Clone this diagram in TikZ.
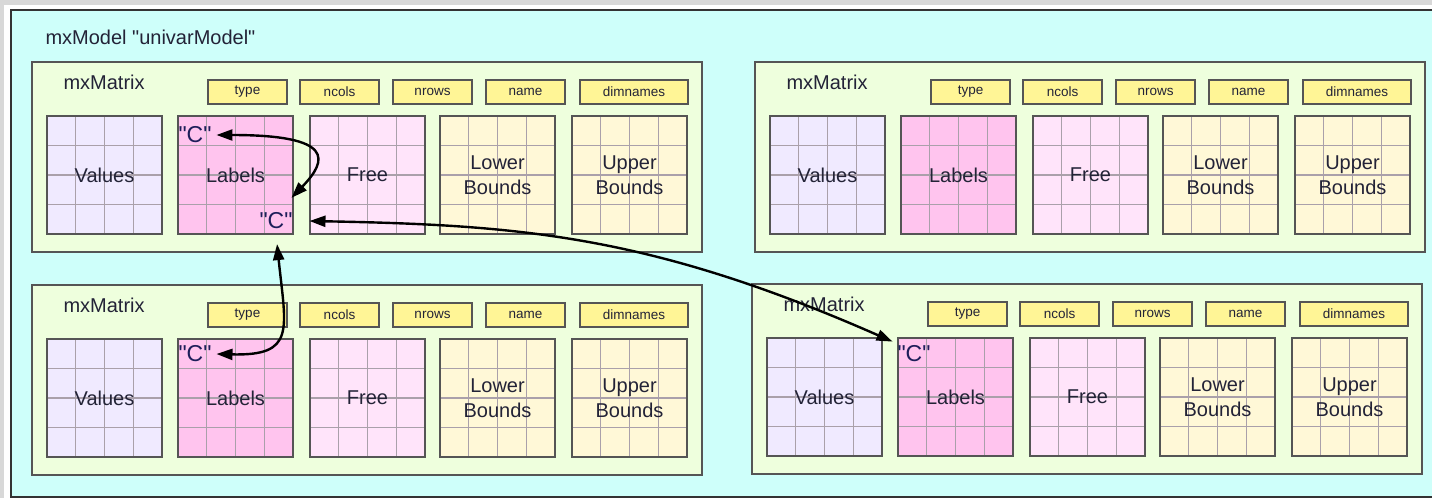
\documentclass[tikz,border=0pt]{standalone}
\usepackage{fontspec}
\setmainfont{Liberation Sans}[Ligatures=TeXOff]
\usetikzlibrary{calc,arrows.meta}

\definecolor{bggray}{RGB}{216,216,216}
\definecolor{modelcyan}{RGB}{206,255,250}
\definecolor{matgreen}{RGB}{238,255,221}
\definecolor{attryel}{RGB}{255,245,150}
\definecolor{valfill}{RGB}{240,234,255}
\definecolor{labfill}{RGB}{255,196,238}
\definecolor{freefill}{RGB}{255,228,250}
\definecolor{bndfill}{RGB}{255,248,215}
\definecolor{frame}{RGB}{85,85,85}
\definecolor{cellline}{RGB}{170,160,170}
\definecolor{txtdark}{RGB}{35,35,55}
\definecolor{cnavy}{RGB}{30,30,90}

\newcommand\labelfont{\fontsize{20}{25}\selectfont}
\newcommand\attrfont{\fontsize{13.5}{15}\selectfont}
\newcommand\quotefont{\fontsize{23}{25}\selectfont}

\tikzset{
  matbox/.style={draw=frame,fill=matgreen,line width=1.5pt},
  attr/.style={draw=frame,fill=attryel,line width=1.4pt,minimum height=24pt,
    inner sep=0pt,font=\attrfont,text=txtdark},
  cell/.style={draw=cellline,line width=1.1pt},
  gridbox/.style={draw=frame,fill=#1,line width=1.8pt,minimum width=115pt,
    minimum height=118pt,inner sep=0pt,align=center,font=\labelfont,text=txtdark,
    path picture={
      \foreach \k in {1,2,3}{
        \draw[cell] ($(path picture bounding box.north west)!\k/4!(path picture bounding box.north east)$)
          -- ($(path picture bounding box.south west)!\k/4!(path picture bounding box.south east)$);
        \draw[cell] ($(path picture bounding box.north west)!\k/4!(path picture bounding box.south west)$)
          -- ($(path picture bounding box.north east)!\k/4!(path picture bounding box.south east)$);
      }}},
  ctxt/.style={font=\quotefont,text=cnavy,inner sep=1pt,outer sep=4pt},
  link/.style={<->,>={Triangle[length=16pt,width=11pt]},line width=2.4pt},
  mxmat/.pic={
    \draw[matbox] (0,0) rectangle (670,190);
    \node[anchor=west,font=\labelfont,text=txtdark] (-title) at (28,20) {mxMatrix};
    \foreach \t/\c/\w in {type/215.5/79,ncols/307.5/79,nrows/400.5/79,name/493.5/79,dimnames/602/108}
      \node[attr,minimum width=\w pt] (-\t) at (\c,30) {\t};
    \node[gridbox=valfill] (-vals) at (72.5,113) {Values};
    \node[gridbox=labfill] (-lab) at (203.5,113) {Labels};
    \node[gridbox=freefill] (-free) at (335.5,113) {Free};
    \node[gridbox=bndfill] (-low) at (465.5,113) {Lower\\Bounds};
    \node[gridbox=bndfill] (-up) at (597.5,113) {Upper\\Bounds};
  }
}

\begin{document}
\begin{tikzpicture}[x=1pt,y=-1pt]
  \useasboundingbox (0,0) rectangle (1432,498);
  \clip (0,0) rectangle (1432,498);
  \fill[bggray] (0,0) rectangle (1432,498);
  \fill[white] (4,5) rectangle (1432,498);
  \draw[draw=black!80,fill=modelcyan,line width=1.8pt] (11,10) rectangle (1445,497);
  \node[anchor=west,font=\labelfont,text=txtdark] (model) at (42,37) {mxModel "univarModel"};

  \pic (tl) at (32,62) {mxmat};
  \pic (tr) at (755,62) {mxmat};
  \pic (bl) at (32,285) {mxmat};
  \pic (br) at (752,284) {mxmat};

  \node[ctxt] (c1) at (195,135) {"C"};
  \node[ctxt] (c2) at (276,221) {"C"};
  \node[ctxt] (c3) at (195,354) {"C"};
  \node[ctxt] (c4) at (914,354) {"C"};

  \draw[link] (c1.east) .. controls (335,135) and (328,160) .. ([shift={(-6pt,10pt)}]c2.north east);
  \draw[link] ([xshift=12pt]c2.east) .. controls (520,225) and (650,235) .. (c4.150);
  \draw[link,shorten <=10pt] (c2.south) .. controls (286,330) and (296,356) .. (c3.east);
\end{tikzpicture}
\end{document}
